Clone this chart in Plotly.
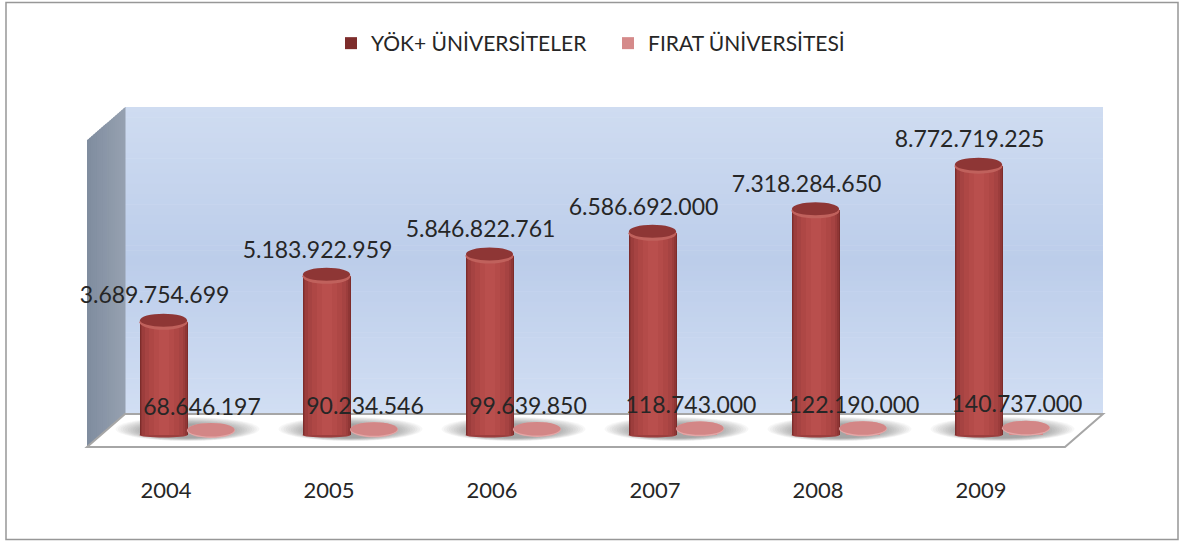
import plotly.graph_objects as go

# ---------- data ----------
years = ["2004", "2005", "2006", "2007", "2008", "2009"]
yok = [3689754699, 5183922959, 5846822761, 6586692000, 7318284650, 8772719225]
firat = [68646197, 90234546, 99639850, 118743000, 122190000, 140737000]
series_names = ["YÖK+ ÜNİVERSİTELER", "FIRAT ÜNİVERSİTESİ"]


def tr(v):
    return f"{v:,}".replace(",", ".")


# ---------- pixel calibration of the axes ----------
W, H = 1181, 541
X0, DX = 163.5, 163.0      # pixel of first category, pixels per category
Y0, DY = 435.0, 30.7e-9    # pixel of value 0, pixels per unit
xr = [(0 - X0) / DX, (W - X0) / DX]
yr = [(Y0 - H) / DY, Y0 / DY]
FONT = "Lato, 'Open Sans', sans-serif"
TXT = "#262626"


def dx(px):
    return px / DX


def dy(px):
    return px / DY


def px(x):
    return x / W


def py(y):
    return 1 - y / H


def mix(a, b, t):
    ca = [int(a[i:i + 2], 16) for i in (1, 3, 5)]
    cb = [int(b[i:i + 2], 16) for i in (1, 3, 5)]
    return "#" + "".join(f"{round(p + (q - p) * t):02x}" for p, q in zip(ca, cb))


def grad(stops, t):
    for (t0, c0), (t1, c1) in zip(stops, stops[1:]):
        if t <= t1:
            return mix(c0, c1, (t - t0) / (t1 - t0))
    return stops[-1][1]


idx = list(range(len(years)))
shift = dx(47.5)
idx2 = [i + shift for i in idx]
fig = go.Figure()

# bars: layered widths make the cylinder shading
layers1 = [(48, "#7d2c2b"), (46, "#8f3635"), (43, "#9c3d3c"), (38, "#a64342"),
           (30, "#ae4745"), (20, "#b44b49"), (10, "#b94f4d")]
layers2 = [(34, "#d58a8a")]
for n, (w, c) in enumerate(layers1):
    fig.add_trace(go.Bar(x=idx, y=yok, width=dx(w), marker=dict(color=c, line=dict(width=0)),
                         name=series_names[0], showlegend=n == 0, hoverinfo="skip"))
for n, (w, c) in enumerate(layers2):
    fig.add_trace(go.Bar(x=idx2, y=firat, width=dx(w), marker=dict(color=c, line=dict(width=0)),
                         name=series_names[1], showlegend=n == 0, hoverinfo="skip"))

# data labels
fig.add_trace(go.Scatter(
    x=[i - dx(9) for i in idx], y=[v + dy(24) for v in yok], mode="text",
    text=[tr(v) for v in yok], textposition="middle center",
    textfont=dict(family=FONT, size=23, color=TXT), showlegend=False, hoverinfo="skip", cliponaxis=False))
fig.add_trace(go.Scatter(
    x=[i + shift - dx(9) for i in idx], y=[v + dy(24) for v in firat], mode="text",
    text=[tr(v) for v in firat], textposition="middle center",
    textfont=dict(family=FONT, size=23, color=TXT), showlegend=False, hoverinfo="skip", cliponaxis=False))

shapes = []


def path_px(pts, **kw):
    d = "M " + " L ".join(f"{px(a):.5f} {py(b):.5f}" for a, b in pts) + " Z"
    shapes.append(dict(type="path", xref="paper", yref="paper", path=d, **kw))


def ell(cx, cy, rx, ry, color, layer="above", opacity=1):
    shapes.append(dict(type="circle", xref="x", yref="y", x0=cx - dx(rx), x1=cx + dx(rx),
                       y0=cy - dy(ry), y1=cy + dy(ry), fillcolor=color, opacity=opacity,
                       line=dict(width=0), layer=layer))


# chart border
path_px([(6, 2.5), (1178, 2.5), (1178, 539.5), (6, 539.5)], line=dict(color="#979797", width=1.5),
        fillcolor="rgba(0,0,0,0)", layer="below")

# back wall as thin gradient bands
wall_stops = [(0, "#cfdcf1"), (0.5, "#bccdea"), (1, "#d1def3")]
WT, WB, NB = 107, 414, 60
for k in range(NB):
    y0 = WT + (WB - WT) * k / NB
    y1 = WT + (WB - WT) * (k + 1) / NB + 0.6
    path_px([(125, y0), (1103, y0), (1103, y1), (125, y1)],
            fillcolor=grad(wall_stops, (k + 0.5) / NB), line=dict(width=0), layer="below")

# side wall as slanted strips
NS = 19
for k in range(NS):
    x0 = 87 + 38 * k / NS
    x1 = 87 + 38 * (k + 1) / NS + 0.5
    t0 = 140 - 33 * k / NS
    t1 = 140 - 33 * (k + 1) / NS
    b0 = 447 - 33 * k / NS
    b1 = 447 - 33 * (k + 1) / NS
    path_px([(x0, t0), (x1, t1), (x1, b1), (x0, b0)],
            fillcolor=mix("#7f8c9f", "#96a1b0", (k + 0.5) / NS), line=dict(width=0), layer="below")

# floor
path_px([(87, 447), (125, 414), (1103, 414), (1065, 447)],
        fillcolor="#ffffff", line=dict(color="#a6a6a6", width=2), layer="below")

# floor shadows, soft layered ellipses
NSH = 14
for i in idx:
    for k in range(NSH):
        t = k / (NSH - 1)
        ell(i + dx(24), dy(6 - 2 * t), 72 - 32 * t, 12 - 5 * t, "#4d4d4d", layer="below", opacity=0.045)

# cylinder tops and bases
for i, v in zip(idx, yok):
    ell(i, 0, 24, 2.5, "#9c3f3e", layer="below")
    ell(i, v - dy(0.5), 24, 7.5, "#c0615c")
    ell(i, v + dy(1.5), 23.5, 6.5, "#8e3635")
for i, v in zip(idx2, firat):
    ell(i, v + dy(2.5), 24, 7.5, "#e3a6a6")
    ell(i, v + dy(3.2), 23.5, 6.7, "#d38686")

fig.update_layout(
    width=W, height=H, autosize=False,
    margin=dict(l=0, r=0, t=0, b=0),
    paper_bgcolor="white", plot_bgcolor="rgba(0,0,0,0)",
    barmode="overlay", bargap=0,
    showlegend=True,
    legend=dict(orientation="h", x=331 / W, y=py(23), xanchor="left", yanchor="top",
                bgcolor="rgba(0,0,0,0)", font=dict(family=FONT, size=21, color=TXT),
                entrywidth=232, entrywidthmode="pixels", itemclick=False, itemdoubleclick=False),
    xaxis=dict(range=xr, tickmode="array", tickvals=[i + dx(2.5) for i in idx], ticktext=years, anchor="free",
               position=py(475), showgrid=False, zeroline=False, showline=False, ticks="",
               tickfont=dict(family=FONT, size=22, color=TXT), fixedrange=True),
    yaxis=dict(range=yr, visible=False, fixedrange=True),
    shapes=shapes,
)

fig.write_html("out.html", config={"displayModeBar": False},
               post_script="document.body.style.margin='0';")
